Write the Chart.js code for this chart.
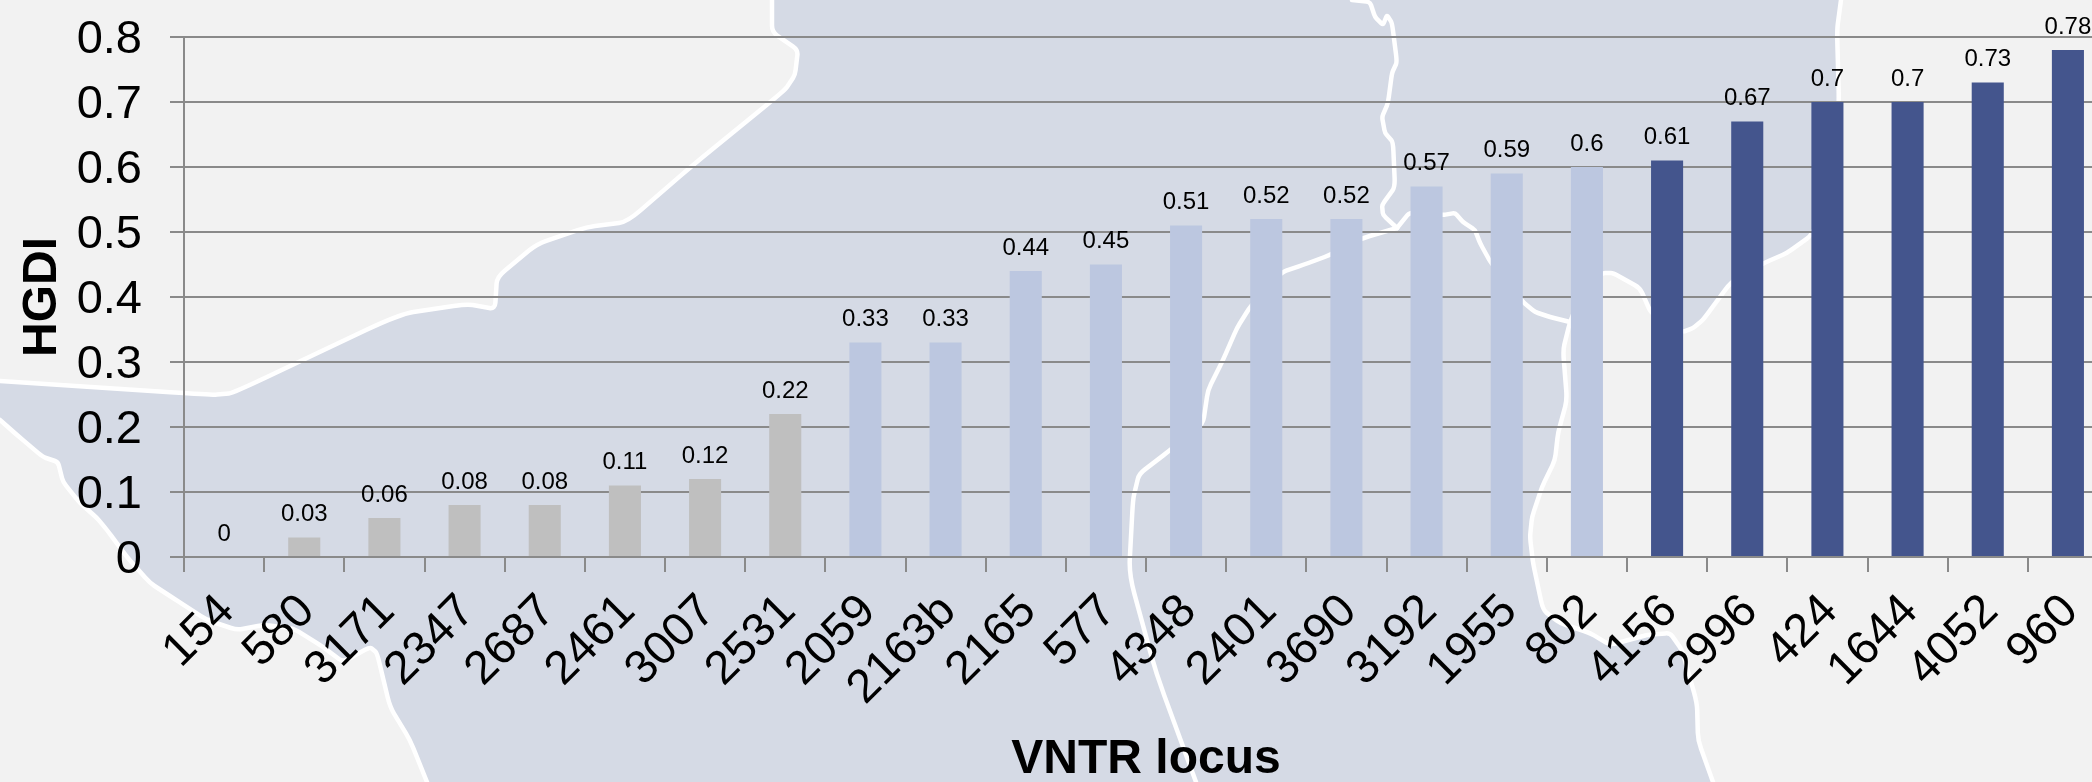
<!DOCTYPE html>
<html>
<head>
<meta charset="utf-8">
<title>HGDI by VNTR locus</title>
<script src="https://cdn.jsdelivr.net/npm/chart.js@4/dist/chart.umd.min.js"></script>
<style>
    html, body { margin: 0; padding: 0; width: 2092px; height: 782px; overflow: hidden; background: #f2f2f2; }
    #box { position: absolute; left: 0; top: 0; width: 2108px; height: 782px; }
</style>
</head>
<body>
<div id="box"><canvas id="hgdiChart" width="2108" height="782"></canvas></div>
<script>
const loci = ['154', '580', '3171', '2347', '2687', '2461', '3007', '2531', '2059', '2163b', '2165', '577',
    '4348', '2401', '3690', '3192', '1955', '802', '4156', '2996', '424', '1644', '4052', '960'];
const hgdi = [0, 0.03, 0.06, 0.08, 0.08, 0.11, 0.12, 0.22, 0.33, 0.33, 0.44, 0.45,
    0.51, 0.52, 0.52, 0.57, 0.59, 0.6, 0.61, 0.67, 0.7, 0.7, 0.73, 0.78];
const yTicks = ['0', '0.1', '0.2', '0.3', '0.4', '0.5', '0.6', '0.7', '0.8'];
const lowCount = 8;
const midCount = 10;

// background map (page pixels)
const coastTop = [[772,0],[772,32],[798,50],[795,75],[785,90],[693,165],[627,222],[587,227],[537,244],[497,277],
    [495,309],[467,304],[400,314],[233,393],[213,395],[0,381]];
const coastLow = [[0,420],[17,435],[43,457],[58,462],[63,482],[80,503],[97,518],[107,530],[127,557],[150,583],
    [173,598],[207,620],[237,630],[263,625],[293,628],[323,647],[343,662],[370,647],[377,653],[390,707],[410,740],[427,782]];
const coastRight = [[1841,0],[1837,30],[1839,102],[1835,180],[1812,235],[1787,253],[1764,263],[1731,282],[1703,320],
    [1693,328],[1683,332],[1651,313],[1640,288],[1613,273],[1603,273],[1585,285],[1570,322],[1563,350],[1567,400],
    [1558,433],[1555,460],[1542,487],[1532,517],[1530,537],[1533,563],[1543,610],[1560,623],[1590,633],[1610,645],
    [1647,635],[1670,633],[1682,650],[1697,703],[1698,740],[1713,782]];
const borderNorth = [[1352,0],[1370,2],[1375,17],[1383,25],[1387,15],[1392,23],[1397,62],[1392,73],[1388,103],[1382,117],
    [1385,133],[1393,142],[1395,187],[1382,205],[1383,215],[1397,228]];
const borderWest = [[1397,228],[1363,238],[1330,255],[1303,265],[1282,272],[1250,307],[1237,328],[1223,360],[1208,390],
    [1203,424],[1169,451],[1139,474],[1133,499],[1129,574],[1156,673],[1196,782]];
const borderEast = [[1397,228],[1410,212],[1443,215],[1455,213],[1463,222],[1475,230],[1480,243],[1491,263],[1523,302],
    [1535,312],[1550,317],[1570,322]];

function tracePath(ctx, pts) {
    const f = 0.2; // how much of each corner gets rounded
    ctx.beginPath();
    pts.forEach((p, i) => {
        if (i === 0 || i === pts.length - 1) {
            ctx.lineTo(p[0], p[1]);
        } else {
            const prev = pts[i - 1];
            const next = pts[i + 1];
            ctx.lineTo(p[0] - (p[0] - prev[0]) * f, p[1] - (p[1] - prev[1]) * f);
            ctx.quadraticCurveTo(p[0], p[1], p[0] + (next[0] - p[0]) * f, p[1] + (next[1] - p[1]) * f);
        }
    });
}

const mapBackground = {
    id: 'mapBackground',
    beforeDraw(chart) {
        const ctx = chart.ctx;
        const w = chart.width;
        const h = chart.height;
        ctx.save();
        ctx.fillStyle = '#d5dae5';
        ctx.fillRect(0, 0, w, h);
        ctx.fillStyle = '#f2f2f2';
        tracePath(ctx, coastTop);
        ctx.lineTo(0, 0);
        ctx.fill();
        tracePath(ctx, coastLow);
        ctx.lineTo(0, h);
        ctx.fill();
        tracePath(ctx, coastRight);
        ctx.lineTo(w, h);
        ctx.lineTo(w, 0);
        ctx.fill();
        ctx.strokeStyle = '#fff';
        ctx.lineWidth = 4.5;
        ctx.lineJoin = 'round';
        ctx.lineCap = 'round';
        [coastTop, coastLow, coastRight, borderNorth, borderWest, borderEast].forEach(line => {
            tracePath(ctx, line);
            ctx.stroke();
        });
        ctx.restore();
    }
};

const valueLabels = {
    id: 'valueLabels',
    afterDatasetsDraw(chart) {
        const ctx = chart.ctx;
        const bars = chart.getDatasetMeta(0).data;
        ctx.save();
        ctx.font = '24px "Liberation Sans"';
        ctx.fillStyle = '#000';
        ctx.textAlign = 'center';
        ctx.textBaseline = 'middle';
        bars.forEach((bar, i) => {
            ctx.fillText(String(hgdi[i]), bar.x, bar.y - 23);
        });
        ctx.restore();
    }
};

const barColors = hgdi.map((v, i) => {
    if (i < lowCount) return '#bfbfbf';
    if (i < lowCount + midCount) return '#bcc7e0';
    return '#44558d';
});

new Chart(document.getElementById('hgdiChart').getContext('2d'), {
    type: 'bar',
    data: {
        labels: loci,
        datasets: [{
            label: 'HGDI',
            data: hgdi,
            backgroundColor: barColors,
            barPercentage: 0.4,
            categoryPercentage: 1
        }]
    },
    options: {
        responsive: false,
        animation: false,
        layout: { padding: { top: 37, right: 0, bottom: 0, left: 0 } },
        plugins: { legend: { display: false }, tooltip: { enabled: false } },
        scales: {
            x: {
                grid: { drawOnChartArea: false, drawTicks: true, tickLength: 15, color: '#8a8a8a', lineWidth: 2 },
                border: { color: '#8a8a8a', width: 2 },
                ticks: {
                    color: '#000',
                    font: { family: '"Liberation Sans"', size: 47 },
                    minRotation: 45,
                    maxRotation: 45,
                    autoSkip: false,
                    padding: 12,
                    labelOffset: 3
                },
                title: {
                    display: true,
                    text: 'VNTR locus',
                    color: '#000',
                    font: { family: '"Liberation Sans"', size: 48, weight: 'bold', lineHeight: 0.9 },
                    padding: { top: 0, bottom: 1 }
                },
                afterFit(scale) {
                    scale.height = 225;
                    scale.paddingLeft = 0;
                    scale.paddingRight = 0;
                }
            },
            y: {
                min: 0,
                max: 0.8,
                grid: { color: '#8a8a8a', lineWidth: 2, tickLength: 14 },
                border: { color: '#8a8a8a', width: 2 },
                ticks: {
                    stepSize: 0.1,
                    color: '#000',
                    font: { family: '"Liberation Sans"', size: 47 },
                    padding: 28,
                    labelOffset: 3,
                    callback: (value, index) => yTicks[index]
                },
                title: {
                    display: true,
                    text: 'HGDI',
                    color: '#000',
                    font: { family: '"Liberation Sans"', size: 48, weight: 'bold', lineHeight: 1 },
                    padding: { top: 19, bottom: 0 }
                },
                afterFit(scale) {
                    scale.width = 184;
                    scale.paddingTop = 0;
                    scale.paddingBottom = 0;
                }
            }
        }
    },
    plugins: [mapBackground, valueLabels]
});
</script>
</body>
</html>
